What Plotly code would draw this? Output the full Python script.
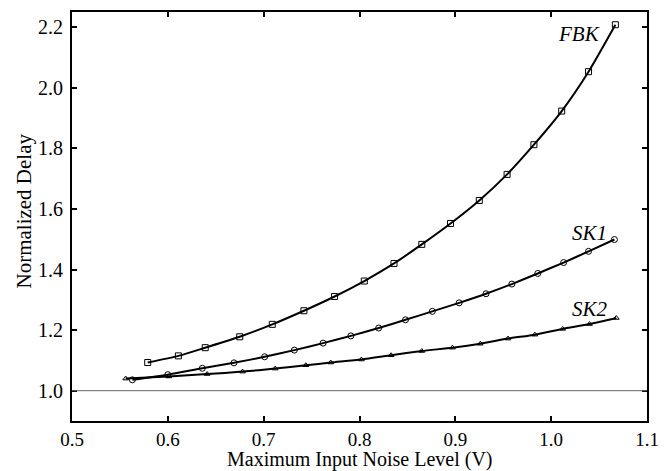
import plotly.graph_objects as go

fbk_x = [0.579, 0.611, 0.639, 0.675, 0.709, 0.742, 0.774, 0.805, 0.836, 0.865,
         0.895, 0.925, 0.954, 0.982, 1.011, 1.039, 1.067]
fbk_y = [1.093, 1.115, 1.142, 1.178, 1.219, 1.264, 1.311, 1.362, 1.420, 1.483,
         1.552, 1.628, 1.714, 1.812, 1.923, 2.053, 2.208]

sk1_x = [0.563, 0.600, 0.636, 0.669, 0.701, 0.732, 0.762, 0.791, 0.820, 0.848,
         0.876, 0.904, 0.932, 0.959, 0.986, 1.013, 1.039, 1.066]
sk1_y = [1.036, 1.053, 1.074, 1.092, 1.112, 1.134, 1.157, 1.181, 1.207, 1.234,
         1.262, 1.290, 1.320, 1.352, 1.387, 1.423, 1.460, 1.499]

sk2_x = [0.556, 0.601, 0.641, 0.678, 0.712, 0.744, 0.770, 0.802, 0.833, 0.865,
         0.897, 0.926, 0.955, 0.983, 1.012, 1.040, 1.068]
sk2_y = [1.040, 1.047, 1.055, 1.063, 1.073, 1.084, 1.093, 1.103, 1.117, 1.131,
         1.142, 1.155, 1.172, 1.185, 1.204, 1.220, 1.240]

series_names = ["FBK", "SK1", "SK2"]
label_x = [1.029, 1.0405, 1.0405]
label_y = [2.179, 1.522, 1.271]

x_ticks = [0.5, 0.6, 0.7, 0.8, 0.9, 1.0, 1.1]
y_ticks = [1.0, 1.2, 1.4, 1.6, 1.8, 2.0, 2.2]
ref_level = 1.0

x_title = "Maximum Input Noise Level (V)"
y_title = "Normalized Delay"

FONT = "Liberation Serif"
FS = 20

fig = go.Figure()

fig.add_shape(type="line", xref="paper", yref="y", x0=0, x1=1,
              y0=ref_level, y1=ref_level, line=dict(color="#666666", width=1))

for xs, ys, sym, sz in [(fbk_x, fbk_y, "square-open", 6),
                        (sk1_x, sk1_y, "circle-open", 6),
                        (sk2_x, sk2_y, "triangle-up-open", 5)]:
    fig.add_trace(go.Scatter(
        x=xs, y=ys, mode="lines+markers",
        line=dict(color="black", width=2, shape="spline", smoothing=0.6),
        marker=dict(symbol=sym, size=sz, color="black", line=dict(width=1, color="black")),
        showlegend=False,
    ))

for name, lx, ly in zip(series_names, label_x, label_y):
    fig.add_annotation(x=lx, y=ly, text="<i>" + name + "</i>", showarrow=False,
                       font=dict(family=FONT, size=21, color="black"))

# axis titles as annotations (fixed plot area)
fig.add_annotation(xref="paper", yref="paper", x=0.5, y=0, yshift=-38.5,
                   xanchor="center", yanchor="middle", text=x_title, showarrow=False,
                   font=dict(family=FONT, size=20, color="black"))
fig.add_annotation(xref="paper", yref="paper", x=0, y=0.5, xshift=-49, yshift=5,
                   xanchor="center", yanchor="middle", text=y_title, textangle=-90,
                   showarrow=False, font=dict(family=FONT, size=21, color="black"))

axis_common = dict(
    showline=True, linecolor="black", linewidth=2, mirror="ticks",
    ticks="inside", ticklen=5, tickwidth=1.5, tickcolor="black",
    showgrid=False, zeroline=False, automargin=False,
)

fig.update_xaxes(range=[0.5, 1.1], tickvals=x_ticks, tickformat=".1f",
                 ticklabelstandoff=0,
                 tickfont=dict(family=FONT, size=19, color="black"), **axis_common)
fig.update_yaxes(range=[0.9, 2.25], tickvals=y_ticks, tickformat=".1f",
                 ticklabelstandoff=3,
                 tickfont=dict(family=FONT, size=FS, color="black"), **axis_common)

fig.update_layout(
    width=664, height=471,
    margin=dict(l=72, r=17, t=12, b=50),
    plot_bgcolor="white", paper_bgcolor="white",
    font=dict(family=FONT, size=FS, color="black"),
)

fig.write_html("out.html")
